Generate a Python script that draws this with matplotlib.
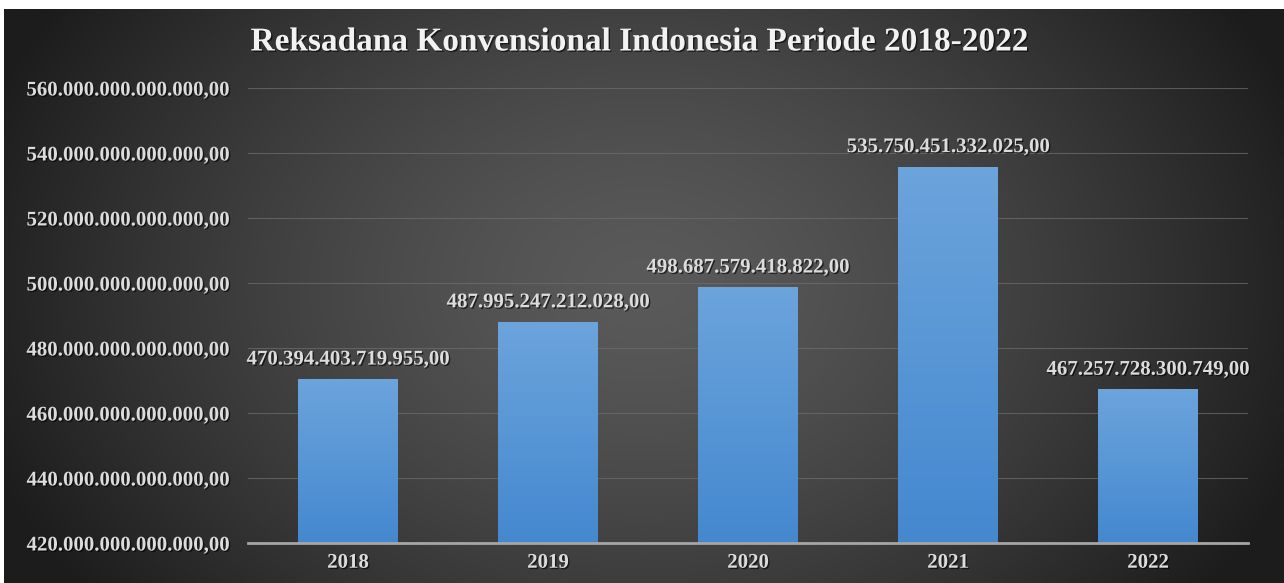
import numpy as np
import matplotlib
matplotlib.use("Agg")
import matplotlib.pyplot as plt
import matplotlib.patheffects as pe

years = ["2018", "2019", "2020", "2021", "2022"]
values = [470394403719955, 487995247212028, 498687579418822, 535750451332025, 467257728300749]
title = "Reksadana Konvensional Indonesia Periode 2018-2022"
y_min, y_max, y_step = 420e12, 560e12, 20e12

def fmt_id(v):
    s = f"{v:,.2f}"
    return s.replace(",", "X").replace(".", ",").replace("X", ".")

W, H, DPI = 1284, 583, 100
fig = plt.figure(figsize=(W / DPI, H / DPI), dpi=DPI, facecolor="white")

# background with radial gradient
bg = fig.add_axes([4 / W, 0, 1 - 4 / W, (H - 9) / H])
bg.set_axis_off()
nx, ny = 400, 200
xx, yy = np.meshgrid(np.linspace(0, 1, nx), np.linspace(0, 1, ny))
r = np.sqrt(((xx - 0.5) / 0.55) ** 2 + ((yy - 0.52) / 0.9) ** 2)
t = np.clip(r / 1.0, 0, 1) ** 1.4
c0 = np.array([0x5a, 0x5a, 0x5a]) / 255
c1 = np.array([0x1c, 0x1c, 0x1c]) / 255
img = c0[None, None, :] * (1 - t[..., None]) + c1[None, None, :] * t[..., None]
bg.imshow(img, extent=[0, 1, 0, 1], aspect="auto", origin="lower")
bg.set_xlim(0, 1)
bg.set_ylim(0, 1)

serif = ["Liberation Serif", "DejaVu Serif"]
txt_color = "#dcdcdc"
shadow = [pe.withSimplePatchShadow(offset=(1, -1), shadow_rgbFace="black", alpha=0.6)]

ax = fig.add_axes([248 / W, 1 - 543 / H, 1000 / W, (543 - 88) / H])
ax.patch.set_alpha(0)
x = np.arange(len(years))
bars = ax.bar(x, values, width=0.5, color="#5b9bd5", zorder=3,
              path_effects=[pe.SimplePatchShadow(offset=(0, 0), shadow_rgbFace="black", alpha=0.5), pe.Normal()])
ax.set_xlim(-0.5, len(years) - 0.5)
ax.set_ylim(y_min, y_max)

# gradient inside bars
grad = np.linspace(0, 1, 256)[:, None]
top_c = np.array([0x6c, 0xa4, 0xdc]) / 255
bot_c = np.array([0x44, 0x88, 0xcf]) / 255
gimg = bot_c[None, None, :] * (1 - grad[..., None]) + top_c[None, None, :] * grad[..., None]
gimg = np.repeat(gimg, 2, axis=1)
for b in bars:
    x0, w, h = b.get_x(), b.get_width(), b.get_height()
    im = ax.imshow(gimg, extent=[x0, x0 + w, y_min, h], aspect="auto", origin="lower", zorder=4)
    im.set_clip_path(b)
ax.set_xlim(-0.5, len(years) - 0.5)
ax.set_ylim(y_min, y_max)

ax.set_yticks(np.arange(y_min, y_max + 1, y_step))
ax.set_yticklabels([fmt_id(v) for v in np.arange(y_min, y_max + 1, y_step)])
ax.set_xticks(x)
ax.set_xticklabels(years)
for lab in ax.get_yticklabels() + ax.get_xticklabels():
    lab.set_fontfamily(serif)
    lab.set_fontweight("bold")
    lab.set_fontsize(15)
    lab.set_color(txt_color)
    lab.set_path_effects(shadow)
ax.tick_params(axis="both", length=0)
ax.tick_params(axis="y", pad=14)
ax.tick_params(axis="x", pad=7)
ax.grid(axis="y", color="#6e6e6e", linewidth=0.8, alpha=0.7, zorder=1)
for s in ["top", "right", "left"]:
    ax.spines[s].set_visible(False)
ax.spines["bottom"].set_color("#a6a6a6")
ax.spines["bottom"].set_linewidth(2)
ax.spines["bottom"].set_zorder(5)

for xi, v in zip(x, values):
    ax.annotate(fmt_id(v), (xi, v), xytext=(0, 7), textcoords="offset points",
                ha="center", va="bottom", fontsize=15, fontweight="bold",
                family=serif, color=txt_color, path_effects=shadow, zorder=6)

fig.text(640 / W, 1 - 42 / H, title, ha="center", va="center", fontsize=24,
         fontweight="bold", family=serif, color="#f2f2f2", path_effects=shadow)

fig.savefig("out.png", dpi=DPI, facecolor=fig.get_facecolor())
